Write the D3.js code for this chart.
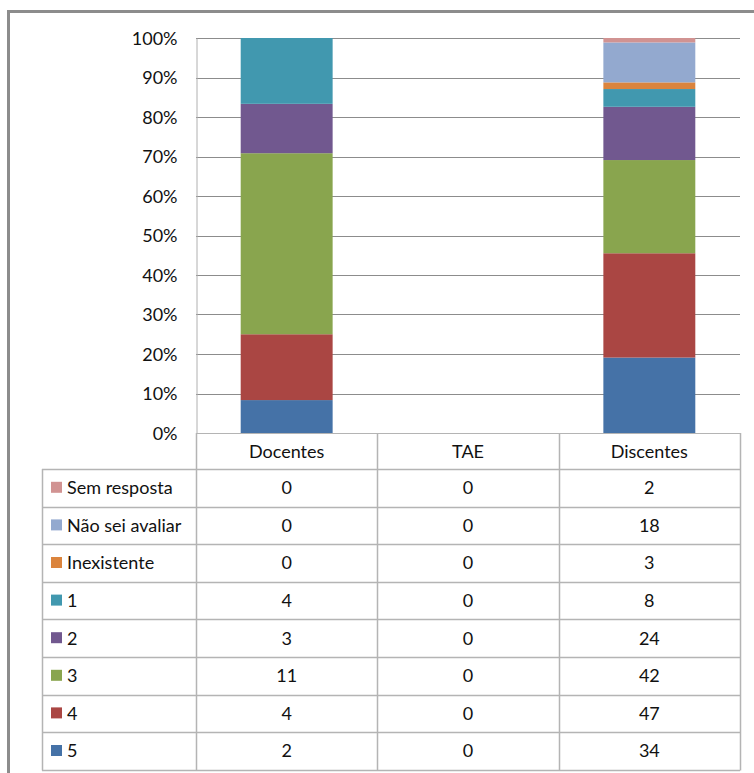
<!DOCTYPE html>
<head>
<meta charset="utf-8">
<style>
  body { margin: 0; background: white; }
  svg { font-family: 'Lato', 'Liberation Sans', sans-serif; }
  .tick text { font-size: 18px; fill: #111; }
  .cell { font-size: 18px; fill: #111; }
</style>
</head>
<body>
<script src="https://d3js.org/d3.v7.min.js"></script>
<script>
// DATA
const groups = ['Docentes', 'TAE', 'Discentes'];
const seriesNames = ['5', '4', '3', '2', '1', 'Inexistente', 'Não sei avaliar', 'Sem resposta'];
const docentes = [2, 4, 11, 3, 4, 0, 0, 0];
const tae = [0, 0, 0, 0, 0, 0, 0, 0];
const discentes = [34, 47, 42, 24, 8, 3, 18, 2];
const colors = ['#4572A7', '#AA4643', '#89A54E', '#71588F', '#4198AF', '#DB843D', '#93A9CF', '#D19392'];
const yTicks = [0, 0.1, 0.2, 0.3, 0.4, 0.5, 0.6, 0.7, 0.8, 0.9, 1];

const width = 754, height = 773;
const margin = {top: 38, left: 196, right: 14};
const plotBottom = 433;
const tableLeft = 42;
const headerH = 36, rowH = 37.6;

const svg = d3.select('body').append('svg')
  .attr('width', width).attr('height', height);

// outer frame
svg.append('rect')
  .attr('x', 8.5).attr('y', 11.5)
  .attr('width', width + 20).attr('height', height + 20)
  .attr('fill', 'none').attr('stroke', '#8c8c8c').attr('stroke-width', 3);

const columns = [docentes, tae, discentes];
const table = groups.map((g, i) => {
  const row = {group: g};
  seriesNames.forEach((s, j) => row[s] = columns[i][j]);
  return row;
});

const x = d3.scaleBand().domain(groups)
  .range([margin.left, width - margin.right]).paddingInner(0).paddingOuter(0);
const y = d3.scaleLinear().domain([0, 1]).range([plotBottom, margin.top]);
const color = d3.scaleOrdinal(seriesNames, colors);

// gridlines
svg.append('g').selectAll('line').data(yTicks.slice(1)).join('line')
  .attr('x1', margin.left).attr('x2', width - margin.right)
  .attr('y1', d => Math.round(y(d)) + 0.5).attr('y2', d => Math.round(y(d)) + 0.5)
  .attr('stroke', '#8c8c8c').attr('stroke-width', 1);

// y axis
const yAxis = d3.axisLeft(y).tickValues(yTicks).tickFormat(d3.format('.0%')).tickSize(0).tickPadding(19);
svg.append('g').attr('transform', `translate(${margin.left + 0.5},0)`)
  .call(yAxis)
  .attr('font-family', null).attr('font-size', null)
  .call(g => g.select('.domain').attr('stroke', '#b0b0b0'))
  .selectAll('text').attr('dy', '0.35em');

// stacked 100% bars
const stack = d3.stack().keys(seriesNames).offset(d3.stackOffsetExpand);
const stacked = stack(table);
const bw = x.bandwidth() * 0.507;
svg.append('g').selectAll('g').data(stacked).join('g')
  .attr('fill', d => color(d.key))
  .selectAll('rect').data(d => d.filter(p => !isNaN(p[0]) && !isNaN(p[1]) && p[1] > p[0])).join('rect')
  .attr('x', d => x(d.data.group) + (x.bandwidth() - bw) / 2)
  .attr('width', bw)
  .attr('y', d => y(d[1]))
  .attr('height', d => y(d[0]) - y(d[1]));

// data table
const tableTop = plotBottom;
const rowsTop = tableTop + headerH;
const displayRows = seriesNames.slice().reverse();
const tableRight = width - margin.right;
const lineColor = '#b4b4b4';
const tg = svg.append('g');

// horizontal lines
tg.append('line').attr('x1', margin.left).attr('x2', tableRight)
  .attr('y1', tableTop + 0.5).attr('y2', tableTop + 0.5).attr('stroke', lineColor);
d3.range(displayRows.length + 1).forEach(i => {
  const yy = Math.round(rowsTop + i * rowH) + 0.5;
  tg.append('line').attr('x1', tableLeft).attr('x2', tableRight)
    .attr('y1', yy).attr('y2', yy).attr('stroke', lineColor).attr('stroke-width', 1.5);
});
const tableBottom = Math.round(rowsTop + displayRows.length * rowH) + 0.5;
// vertical lines
tg.append('line').attr('x1', tableLeft + 0.5).attr('x2', tableLeft + 0.5)
  .attr('y1', rowsTop).attr('y2', tableBottom).attr('stroke', lineColor).attr('stroke-width', 1.5);
groups.forEach(g => {
  tg.append('line').attr('x1', Math.round(x(g)) + 0.5).attr('x2', Math.round(x(g)) + 0.5)
    .attr('y1', tableTop).attr('y2', tableBottom).attr('stroke', lineColor).attr('stroke-width', 1.5);
});
tg.append('line').attr('x1', tableRight + 0.5).attr('x2', tableRight + 0.5)
  .attr('y1', tableTop).attr('y2', tableBottom).attr('stroke', lineColor).attr('stroke-width', 1.5);

// header
tg.selectAll('text.head').data(groups).join('text')
  .attr('class', 'cell head')
  .attr('x', d => x(d) + x.bandwidth() / 2)
  .attr('y', tableTop + headerH / 2 + 1)
  .attr('text-anchor', 'middle').attr('dy', '0.35em')
  .text(d => d);

// rows
displayRows.forEach((s, i) => {
  const cy = rowsTop + i * rowH + rowH / 2;
  tg.append('rect').attr('x', 51).attr('y', cy - 6).attr('width', 11).attr('height', 11)
    .attr('fill', color(s));
  tg.append('text').attr('class', 'cell').attr('x', 67).attr('y', cy).attr('dy', '0.35em').text(s);
  groups.forEach(g => {
    const row = table.find(r => r.group === g);
    tg.append('text').attr('class', 'cell')
      .attr('x', x(g) + x.bandwidth() / 2).attr('y', cy).attr('dy', '0.35em')
      .attr('text-anchor', 'middle').text(row[s]);
  });
});
</script>
</body>
